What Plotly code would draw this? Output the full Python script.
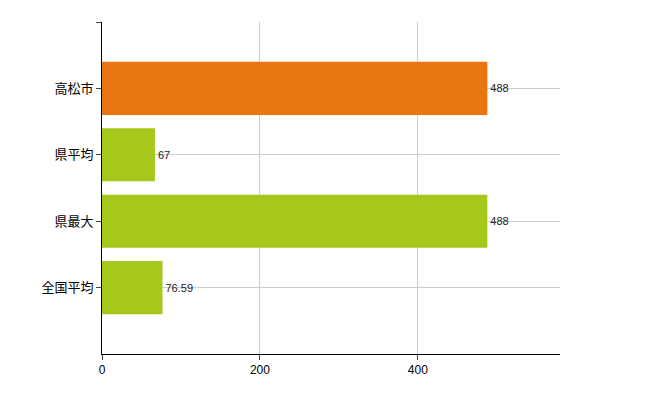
import plotly.graph_objects as go

categories = ["全国平均", "県最大", "県平均", "高松市"]
values = [76.59, 488, 67, 488]
labels = ["76.59", "488", "67", "488"]
colors = ["#a5c81a", "#a5c81a", "#a5c81a", "#e8750f"]

fig = go.Figure(go.Bar(
    x=values, y=list(range(len(categories))), orientation="h",
    marker=dict(color=colors, line=dict(width=0)), width=0.8,
    text=labels, textposition="outside", cliponaxis=False,
    textfont=dict(size=11, color="#222", family="Liberation Sans"),
))
fig.update_layout(
    width=650, height=400, plot_bgcolor="white", paper_bgcolor="white",
    margin=dict(l=94, r=98, t=14, b=54), showlegend=False,
    font=dict(family="Noto Sans CJK JP", size=13, color="#000"),
    xaxis=dict(range=[0, 580], tickvals=[0, 200, 400], showgrid=True,
               gridcolor="#c8cdd4", showline=True, linecolor="#000",
               ticks="outside", ticklen=5, zeroline=False,
               tickfont=dict(size=12, family="Liberation Sans")),
    yaxis=dict(range=[-1, 4], tickvals=[0, 1, 2, 3, 4],
               ticktext=categories + [""], showgrid=True, gridcolor="#c8cdd4",
               showline=True, linecolor="#000", ticks="outside", ticklen=5,
               zeroline=False),
)
fig.write_html("out.html")
